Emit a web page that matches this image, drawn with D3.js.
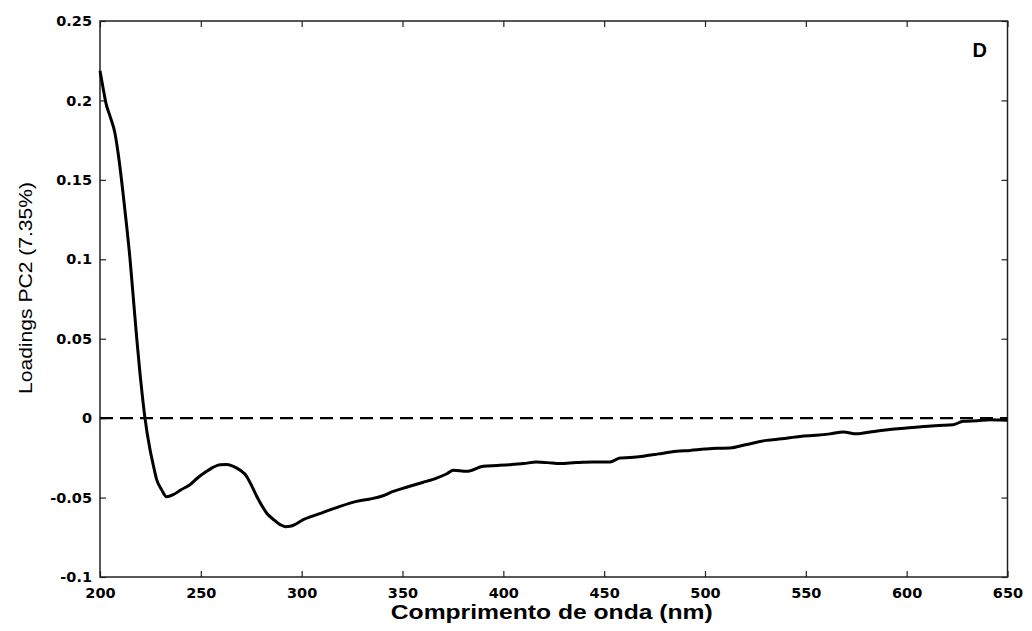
<!DOCTYPE html>
<html>
<head>
<meta charset="utf-8">
<script src="https://cdn.jsdelivr.net/npm/d3@7"></script>
<style>
  body { margin: 0; background: #fff; }
  svg { display: block; font-family: Arial, "Liberation Sans", sans-serif; }
  .tick text { font-family: "DejaVu Sans", sans-serif; font-size: 14.5px; font-weight: bold; fill: #000; }
</style>
</head>
<body>
<svg id="chart" width="1032" height="631"></svg>
<script>
// wavelength (nm) and PC2 loadings
const wavelength = [200, 201.5, 203, 205, 207.4, 209.5, 211.6, 213.3, 214.9, 216.5, 218.2, 219.8, 221, 222.3, 224.8, 226.5,
  228.1, 230.5, 233, 236.3, 240, 244.6, 248.5, 252.9, 256, 259.5, 263, 266.1, 269.5, 272.7, 275, 277.7, 280,
  282.6, 286, 289.3, 292, 294.2, 297, 300.8, 305, 310.7, 318, 327.2, 333.9, 340, 345.4, 352, 360, 366.9, 372,
  375.2, 381.8, 390, 397, 403.3, 410, 416.5, 422, 428.1, 436, 444.6, 452.9, 457.8, 463, 469.4, 477, 485.9,
  492.6, 500, 506, 512.4, 520, 530.6, 538, 547.1, 555, 562, 568.6, 575.2, 583, 591.7, 600, 608.3, 616, 623.1,
  628, 635, 641.3, 646, 650];
const loadings = [0.2187, 0.208, 0.198, 0.19, 0.1795, 0.162, 0.1396, 0.12, 0.0999, 0.076, 0.0505, 0.0285, 0.014, 0, -0.0198,
  -0.03, -0.0387, -0.045, -0.0495, -0.0482, -0.0452, -0.0419, -0.0375, -0.0335, -0.031, -0.0293, -0.0292,
  -0.0303, -0.0328, -0.0366, -0.042, -0.0492, -0.0545, -0.0597, -0.0638, -0.067, -0.0683, -0.0681, -0.0668,
  -0.0639, -0.0618, -0.0593, -0.056, -0.0524, -0.0509, -0.049, -0.0461, -0.0435, -0.0405, -0.0377, -0.035,
  -0.0328, -0.0335, -0.0303, -0.0298, -0.0293, -0.0286, -0.0276, -0.028, -0.0286, -0.028, -0.0276, -0.0276,
  -0.0251, -0.0248, -0.024, -0.0225, -0.0209, -0.0203, -0.0195, -0.019, -0.0188, -0.0168, -0.014, -0.013,
  -0.0115, -0.0108, -0.0099, -0.0087, -0.0099, -0.0085, -0.0072, -0.0062, -0.0052, -0.0046, -0.0041,
  -0.002, -0.0016, -0.001, -0.0012, -0.0014];
const xTicks = [200, 250, 300, 350, 400, 450, 500, 550, 600, 650];
const yTicks = [-0.1, -0.05, 0, 0.05, 0.1, 0.15, 0.2, 0.25];

const svg = d3.select('#chart');
const margin = { left: 100, right: 24.5, top: 21, bottom: 54 };
const width = +svg.attr('width');
const height = +svg.attr('height');
const innerWidth = width - margin.left - margin.right;
const innerHeight = height - margin.top - margin.bottom;

const x = d3.scaleLinear().domain([200, 650]).range([0, innerWidth]);
const y = d3.scaleLinear().domain([-0.1, 0.25]).range([innerHeight, 0]);

const g = svg.append('g')
  .attr('transform', `translate(${margin.left},${margin.top})`);

const fmt = (d) => String(+d.toFixed(2));

// axes with inward ticks on all four sides
const styleAxis = (sel) => {
  sel.select('.domain').remove();
  sel.selectAll('.tick line').attr('stroke', '#222').attr('stroke-width', 1.2);
};
// mirror axes: ticks only
const noLabels = (sel) => sel.selectAll('.tick text').remove();

g.append('g')
  .attr('transform', `translate(0,${innerHeight})`)
  .call(d3.axisBottom(x).tickValues(xTicks).tickSize(-6).tickPadding(9).tickFormat(fmt))
  .call(styleAxis)
  .selectAll('.tick text').attr('y', 21).attr('dy', null);

g.append('g')
  .call(d3.axisTop(x).tickValues(xTicks).tickSize(-6))
  .call(styleAxis)
  .call(noLabels);

g.append('g')
  .call(d3.axisLeft(y).tickValues(yTicks).tickSize(-6).tickPadding(8).tickFormat(fmt))
  .call(styleAxis);

g.append('g')
  .attr('transform', `translate(${innerWidth},0)`)
  .call(d3.axisRight(y).tickValues(yTicks).tickSize(-6))
  .call(styleAxis)
  .call(noLabels);

// frame
g.append('rect')
  .attr('width', innerWidth)
  .attr('height', innerHeight)
  .attr('fill', 'none')
  .attr('stroke', '#222')
  .attr('stroke-width', 1.5);

// zero reference line
g.append('line')
  .attr('x1', 0)
  .attr('x2', innerWidth)
  .attr('y1', y(0))
  .attr('y2', y(0))
  .attr('stroke', '#000')
  .attr('stroke-width', 2.2)
  .attr('stroke-dasharray', '13,7');

// loadings curve
const data = wavelength.map((w, i) => ({ w, v: loadings[i] }));
g.append('path')
  .datum(data)
  .attr('fill', 'none')
  .attr('stroke', '#000')
  .attr('stroke-width', 3)
  .attr('stroke-linejoin', 'round')
  .attr('d', d3.line().x((d) => x(d.w)).y((d) => y(d.v)).curve(d3.curveMonotoneX));

// panel letter
g.append('text')
  .attr('x', innerWidth - 35)
  .attr('y', 36)
  .attr('font-size', 20)
  .attr('font-weight', 'bold')
  .text('D');

// axis titles
svg.append('text')
  .attr('x', margin.left + innerWidth / 2 - 2)
  .attr('y', 619)
  .attr('text-anchor', 'middle')
  .attr('font-size', 20)
  .attr('font-weight', 'bold')
  .attr('textLength', 322)
  .attr('lengthAdjust', 'spacingAndGlyphs')
  .text('Comprimento de onda (nm)');

svg.append('text')
  .attr('transform', `translate(32,288) rotate(-90)`)
  .attr('text-anchor', 'middle')
  .attr('font-size', 19)
  .attr('textLength', 212)
  .attr('lengthAdjust', 'spacingAndGlyphs')
  .text('Loadings PC2 (7.35%)');
</script>
</body>
</html>
